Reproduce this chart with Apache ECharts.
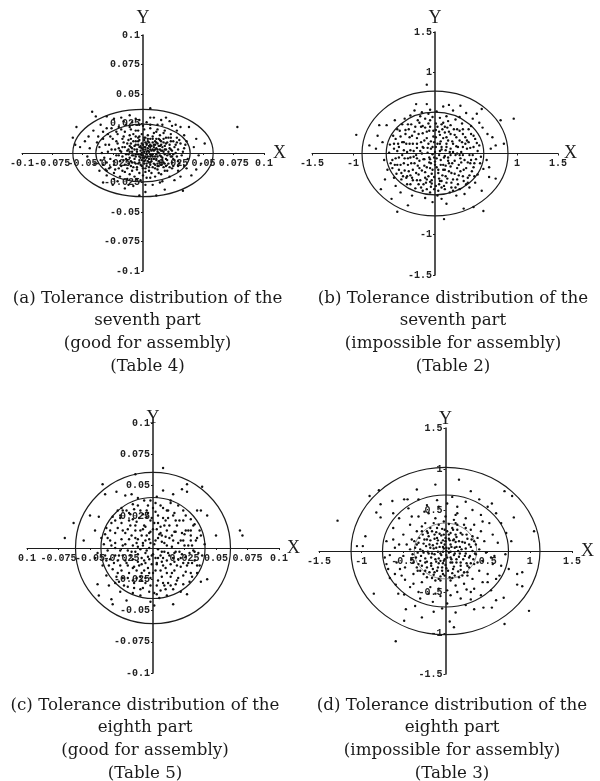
<!DOCTYPE html>
<html><head><meta charset="utf-8">
<style>html,body{margin:0;padding:0;background:#fff}#c{width:600px;height:781px}</style>
<script src="https://cdn.jsdelivr.net/npm/echarts@6/dist/echarts.min.js"></script>
</head><body><div id="c"></div>
<script>
// Tick values and printed labels
const ticksSmall=[-0.1,-0.075,-0.05,-0.025,0.025,0.05,0.075,0.1];
const labelsSmallX=['-0.1','-0.075','-0.05','-0.025','0.025','0.05','0.075','0.1'];
const labelsSmallXc=['0.1','-0.075','-0.05','-0.025','0.025','0.05','0.075','0.1'];
const labelsSmallY=['-0.1','-0.075','-0.05','-0.025','0.025','0.05','0.075','0.1'];
const ticksLarge=[-1.5,-1,1,1.5];
const labelsLarge=['-1.5','-1','1','1.5'];
const ticksLargeD=[-1.5,-1,-0.5,0.5,1,1.5];
const labelsLargeD=['-1.5','-1','-0.5','0.5','1','1.5'];
// Tolerance ellipses: [semi-axis x, semi-axis y]
const ellipsesA=[[0.058,0.037],[0.039,0.0245]];
const ellipsesB=[[0.89,0.77],[0.595,0.51]];
const ellipsesC=[[0.0615,0.0605],[0.0413,0.0404]];
const ellipsesD=[[1.12,1.02],[0.747,0.683],[0.37,0.34]];
// Scatter points: A and C in 1/1000, B and D in 1/100
const pointsA=[[78,22],[-42,35],[-39,31],[-55,22],[-58,13],[6,38],[9,30],[19,30],[31,22],[38,22],[44,12],[51,8],[42,5],[40,-19],[33,-32],[11,-36],[18,-31],[26,-23],[-24,29],[-30,31],[-11,32],[15,28],[22,27],[-6,29],[-18,30],[-48,10],[-52,5],[-45,14],[-41,19],[-35,24],[-33,18],[-44,4],[-56,7],[-38,9],[-46,-3],[-40,-9],[-36,-15],[-30,-19],[-33,-25],[-25,-27],[-21,-24],[-15,-30],[-8,-28],[-3,-36],[2,-33],[8,-27],[14,-25],[22,-20],[29,-15],[34,-11],[37,-5],[46,-2],[48,-9],[44,-14],[36,10],[34,15],[28,19],[24,23],[12,24],[3,26],[-3,24],[-9,26],[-14,24],[-20,22],[-26,21],[-29,16],[-33,12],[-36,5],[-32,-4],[-33,-10],[-28,-13],[-24,-17],[-19,-20],[-13,-22],[-7,-20],[-2,-23],[3,-21],[10,-20],[15,-18],[20,-15],[25,-11],[29,-7],[32,-2],[34,4],[31,8],[28,13],[23,16],[18,19],[12,20],[6,21],[1,20],[-4,19],[-10,20],[-15,18],[-21,16],[-25,12],[-28,7],[-29,1],[-27,-5],[-24,-10],[-20,-13],[-15,-16],[-9,-15],[-3,-17],[2,-16],[7,-17],[12,-14],[17,-12],[21,-9],[25,-5],[27,0],[26,5],[23,10],[19,13],[14,15],[9,17],[4,15],[-1,16],[-6,14],[-11,15],[-17,12],[-21,8],[-23,3],[-22,-2],[-19,-7],[-15,-10],[-10,-11],[-5,-12],[0,-13],[5,-12],[10,-10],[15,-8],[19,-5],[22,-1],[22,4],[19,8],[15,10],[11,12],[6,12],[1,11],[-3,11],[-8,10],[-13,8],[-17,5],[-18,1],[-17,-3],[-13,-6],[-9,-8],[-4,-9],[1,-9],[6,-8],[11,-6],[15,-3],[17,1],[16,5],[12,8],[8,9],[3,8],[-1,8],[-6,7],[-10,5],[-13,2],[-14,-1],[-11,-4],[-7,-5],[-3,-6],[2,-6],[7,-5],[10,-3],[13,0],[12,3],[9,5],[5,6],[1,5],[-3,5],[-7,3],[-9,1],[-9,-2],[-6,-3],[-2,-4],[2,-3],[6,-3],[8,-1],[9,2],[6,3],[2,3],[-2,2],[-5,1],[-4,-1],[-1,-2],[3,-1],[5,1],[1,1],[-1,0],[0,3],[4,4],[7,6],[10,7],[14,6],[18,3],[20,-2],[16,-6],[12,-9],[8,-12],[3,-11],[-2,-10],[-6,-9],[-12,-9],[-16,-6],[-20,-2],[-20,4],[-16,9],[-10,12],[-4,13],[2,13],[8,14],[13,12],[17,9],[24,2],[24,-3],[18,-9],[13,-11],[4,-7],[-1,-6],[-8,-2],[-11,1],[-11,6],[-6,10],[4,10],[10,10],[14,3],[11,-1],[5,-5],[3,7],[-4,7],[6,-1],[-2,-1]];
const coreA=[[-26,3],[-24,-7],[-22,10],[-19,2],[-18,-11],[-16,14],[-15,5],[-14,-5],[-13,-13],[-12,11],[-12,3],[-10,-7],[-10,8],[-8,-12],[-8,16],[-7,6],[-6,-1],[-5,-14],[-4,10],[-3,-8],[-3,14],[-2,5],[-1,-11],[0,7],[0,-4],[1,13],[1,-7],[2,9],[2,-13],[3,1],[3,-9],[4,12],[4,-3],[5,9],[5,-15],[6,5],[6,-10],[7,2],[7,-7],[8,12],[8,-3],[9,7],[9,-9],[10,3],[10,-13],[11,9],[11,-5],[12,1],[12,-11],[13,6],[13,-7],[14,11],[14,-2],[15,-10],[15,7],[16,2],[16,-4],[17,-8],[17,12],[18,6],[18,-1],[19,-11],[19,3],[20,9],[20,-6],[21,1],[21,13],[22,-12],[22,7],[23,-3],[23,3],[24,-8],[25,10],[25,-1],[26,-6],[27,7],[28,-3],[29,3],[30,-9],[30,11],[-31,7],[-30,-8],[-27,14],[-27,-12],[-22,18],[-23,-14],[-18,20],[-17,-15],[-11,22],[-11,-18],[-6,19],[-5,-22],[0,23],[0,-19],[6,24],[6,-21],[11,18],[13,-17],[17,17],[18,-15],[23,13],[24,-13],[28,9],[29,-11],[33,1],[-34,0],[-31,-14],[-35,-6],[-37,14],[-30,21],[-16,27],[-3,28],[6,30],[16,24],[27,24],[35,7],[36,-13],[31,-20],[16,-24],[2,-27],[-12,-27],[-24,-22],[-30,-15],[3,-4],[-3,-3],[0,-2],[4,2],[-2,6],[7,-2],[9,-5],[-7,-8],[-5,3],[2,5],[11,4],[15,2],[5,-8],[-1,4],[8,3],[12,-3],[-12,-1],[-9,4],[1,-4],[6,7]];
const pointsB=[[96,43],[-96,23],[-10,85],[11,-81],[59,-71],[-46,-72],[80,41],[74,10],[84,12],[70,20],[-68,35],[-59,35],[-80,10],[-70,22],[-66,-44],[-53,-56],[-33,-64],[47,-66],[35,-68],[57,-46],[66,-29],[74,-31],[59,-19],[66,-17],[51,49],[57,55],[31,59],[10,58],[-23,61],[-10,61],[-25,53],[-37,43],[-49,41],[-72,6],[-64,14],[-62,-8],[-58,-20],[-61,-32],[-48,-40],[-42,-48],[-28,-52],[-12,-55],[-3,-60],[8,-56],[14,-62],[26,-52],[36,-50],[42,-42],[49,-36],[52,-26],[63,-8],[68,6],[64,24],[58,32],[54,38],[46,43],[38,50],[22,53],[17,60],[2,52],[-6,54],[-16,51],[-30,47],[-40,36],[-46,30],[-51,22],[-55,11],[-56,1],[-52,-8],[-52,-18],[-47,-25],[-41,-32],[-34,-38],[-24,-43],[-15,-46],[-6,-48],[4,-46],[12,-44],[20,-42],[28,-38],[35,-34],[42,-27],[47,-17],[50,-7],[52,3],[51,13],[47,22],[41,30],[33,37],[25,42],[14,46],[6,44],[-3,45],[-12,43],[-21,41],[-29,36],[-36,29],[-42,21],[-45,12],[-46,3],[-44,-5],[-42,-14],[-37,-21],[-30,-27],[-22,-33],[-14,-38],[-5,-41],[5,-38],[14,-36],[22,-32],[29,-27],[35,-20],[40,-11],[42,-2],[43,7],[39,16],[34,24],[27,30],[19,35],[10,38],[1,37],[-8,37],[-17,33],[-25,27],[-31,20],[-35,12],[-38,4],[-37,-6],[-33,-14],[-27,-20],[-20,-26],[-12,-30],[-4,-33],[5,-31],[13,-28],[20,-24],[27,-18],[32,-11],[34,-2],[34,8],[30,16],[24,23],[17,27],[9,30],[1,29],[-7,28],[-15,25],[-22,19],[-27,12],[-30,4],[-30,-5],[-25,-12],[-19,-18],[-12,-23],[-4,-25],[4,-24],[12,-20],[19,-16],[24,-9],[27,0],[26,9],[21,15],[14,20],[6,23],[-2,21],[-10,19],[-17,14],[-22,7],[-23,-2],[-19,-9],[-13,-15],[-6,-18],[2,-17],[10,-14],[16,-9],[19,-2],[19,6],[14,12],[7,15],[-1,14],[-8,12],[-14,7],[-16,0],[-13,-7],[-7,-11],[0,-10],[7,-8],[12,-3],[13,4],[8,8],[1,8],[-5,6],[-9,1],[-7,-5],[-1,-5],[5,-2],[6,3],[0,2],[-3,-1],[-28,-30],[-34,-28],[-44,-20],[-50,-30],[-20,-38],[-10,-44],[18,-48],[30,-44],[40,-36],[48,-12],[56,-4],[44,34],[30,45],[-18,46],[-32,30],[-50,6],[-40,-2],[16,-5],[22,2],[31,-6],[37,12],[-26,3],[-33,-6],[-12,32],[12,33],[3,-52],[-6,-35],[8,-42],[44,-8],[-38,14]];
const coreB=[[-48,-6],[-46,-14],[-44,8],[-41,-24],[-40,14],[-38,-12],[-36,24],[-35,-30],[-34,2],[-32,-22],[-31,12],[-29,-12],[-28,22],[-27,-33],[-26,-4],[-24,33],[-23,-24],[-22,12],[-21,-15],[-20,24],[-18,-33],[-18,3],[-16,-21],[-15,34],[-14,-7],[-13,16],[-11,-36],[-10,-17],[-10,27],[-9,7],[-8,-28],[-6,-7],[-6,33],[-5,15],[-4,-37],[-3,-20],[-3,8],[-2,28],[-1,-29],[0,-14],[1,20],[1,-40],[2,-6],[3,33],[3,12],[4,-20],[5,27],[6,-34],[7,-14],[8,5],[8,36],[9,-27],[10,19],[11,-5],[11,-40],[12,26],[13,-15],[14,8],[15,-31],[15,32],[16,16],[17,-22],[18,2],[19,24],[20,-36],[21,-12],[22,12],[23,30],[24,-25],[25,-2],[26,20],[27,-32],[28,8],[29,-14],[30,28],[31,-22],[32,2],[33,14],[34,-28],[36,-8],[37,20],[38,-18],[39,6],[40,-30],[41,14],[43,-12],[44,24],[45,-22],[46,-2],[47,8],[48,-28],[49,18],[-49,-14],[-50,12],[-43,28],[-39,-28],[-33,36],[-30,-38],[-19,38],[-17,-42],[-6,41],[-1,-44],[8,-34],[16,40],[25,-42],[34,30],[38,-38],[-54,-12],[55,-12],[54,10],[-48,18],[22,-46],[-8,49],[-10,-32],[17,-12],[-22,-6],[30,-2],[10,-20],[-5,-12],[6,12],[-15,8]];
const pointsC=[[8,64],[-14,59],[-40,51],[27,51],[39,49],[-70,8],[-63,20],[69,14],[71,10],[-50,26],[-43,25],[50,10],[43,26],[-44,-29],[-43,-38],[-33,-41],[-32,-45],[-21,-42],[16,-45],[43,-25],[38,-27],[27,-37],[11,-38],[1,-46],[-2,-43],[-38,43],[-29,45],[-22,42],[-17,43],[8,46],[16,43],[23,47],[27,45],[35,30],[38,30],[-55,6],[-46,14],[-41,8],[-44,-4],[-40,-14],[-37,-22],[-30,-28],[-26,-35],[-16,-36],[-8,-32],[6,-34],[16,-33],[24,-29],[31,-23],[35,-14],[39,-6],[41,3],[37,14],[30,23],[24,30],[14,36],[3,41],[-7,38],[-16,35],[-25,32],[-32,25],[-37,16],[-39,3],[-34,-9],[-32,-17],[-24,-24],[-15,-28],[-6,-28],[3,-30],[12,-28],[20,-24],[26,-19],[31,-12],[33,-3],[34,6],[30,14],[24,22],[17,28],[8,32],[0,32],[-10,30],[-18,27],[-25,20],[-30,12],[-33,2],[-30,-6],[-26,-14],[-19,-20],[-10,-23],[-2,-24],[7,-23],[15,-20],[22,-15],[26,-7],[28,2],[25,11],[19,18],[12,24],[4,26],[-5,25],[-13,21],[-20,15],[-25,7],[-26,-2],[-22,-10],[-15,-15],[-7,-18],[2,-18],[10,-16],[17,-11],[21,-3],[22,6],[17,13],[9,18],[1,20],[-7,18],[-14,14],[-19,7],[-20,-2],[-16,-9],[-9,-13],[-1,-13],[7,-11],[13,-6],[15,1],[13,8],[6,12],[-2,13],[-9,10],[-13,4],[-14,-3],[-9,-8],[-3,-9],[4,-8],[9,-3],[9,4],[4,8],[-3,7],[-8,2],[-6,-4],[0,-5],[4,-1],[1,3],[-3,0],[-35,-30],[-28,-20],[-36,8],[-28,30],[-12,40],[-4,34],[12,30],[20,34],[30,10],[35,-20],[22,-35],[5,-40],[-10,-38],[-20,-31],[-46,-8],[-34,14],[-24,14],[-16,23],[-5,30],[10,22],[18,22],[26,14],[32,-2],[24,-12],[17,-18],[8,-28],[-3,-20],[-13,-18],[-24,-6],[-30,0],[-22,3],[-12,7],[-5,10],[3,15],[11,14],[16,6],[18,-3],[11,-10],[3,-13],[-6,-12],[-12,-11],[-17,-3],[-16,2],[-10,-1],[-2,4],[7,5],[6,-6],[11,2],[-12,-5],[-8,15],[-18,18],[-2,22],[7,10],[23,-5],[28,-12],[30,6],[-28,-10],[-38,-6],[-19,28],[2,36],[-26,26],[14,-23],[20,-9],[-9,-26],[-27,-27],[33,19],[-3,-35],[10,-33],[18,-29],[29,-27]];
const coreC=[[-36,-2],[-35,-14],[-34,6],[-33,20],[-31,-12],[-30,4],[-29,-23],[-28,16],[-27,-6],[-26,24],[-25,-18],[-24,2],[-23,-30],[-22,12],[-21,30],[-21,-12],[-20,-24],[-19,22],[-18,-6],[-17,10],[-16,-16],[-15,31],[-15,-32],[-14,18],[-13,-24],[-12,1],[-11,24],[-11,-14],[-10,-33],[-10,14],[-9,-20],[-8,4],[-8,27],[-7,-10],[-6,-24],[-6,17],[-5,-2],[-4,-16],[-4,28],[-3,12],[-2,-30],[-1,-6],[-1,24],[0,15],[0,-20],[1,-36],[2,6],[2,29],[3,-12],[4,20],[4,-26],[5,11],[6,-18],[6,34],[7,-3],[8,24],[8,-14],[9,-30],[10,9],[11,30],[11,-20],[12,-4],[13,18],[14,-13],[14,-30],[15,10],[16,26],[17,-4],[18,13],[19,-14],[19,-26],[20,4],[21,22],[22,-8],[23,12],[24,-22],[25,2],[26,26],[27,-14],[28,14],[29,-4],[30,-20],[31,2],[32,18],[33,-10],[35,8],[36,-4],[37,-14],[38,10],[-37,-10],[-38,11],[-30,22],[-24,30],[-16,-26],[3,-37],[14,38],[-2,38],[-12,34],[-20,-14],[-6,6],[2,-8],[8,-8],[-14,8],[16,-8],[24,6],[6,17],[-4,-7]];
const pointsD=[[-59,-110],[-128,37],[-79,74],[-90,67],[99,-73],[70,-89],[-49,-85],[-85,-52],[81,41],[105,24],[16,87],[30,73],[-12,81],[-34,75],[70,73],[79,67],[10,-93],[5,-86],[-105,6],[-98,6],[-95,18],[-77,41],[-77,57],[-82,47],[91,-26],[85,-28],[91,-43],[85,-41],[69,-57],[55,-69],[45,-69],[34,-71],[12,-75],[-28,-81],[-47,-71],[-36,-67],[-49,-53],[-59,-41],[-63,61],[-49,63],[-45,63],[-32,63],[-72,-8],[-68,-22],[-66,-33],[-56,-52],[-30,-58],[-15,-62],[2,-64],[18,-58],[30,-59],[42,-54],[54,-48],[60,-34],[66,-18],[71,-4],[78,12],[72,22],[66,34],[60,46],[50,54],[40,63],[24,60],[8,66],[-10,62],[-22,56],[-44,52],[-55,40],[-62,28],[-70,12],[-60,4],[-66,-5],[-58,-14],[-60,-28],[-48,-35],[-42,-44],[-32,-50],[-20,-52],[-6,-55],[6,-54],[14,-50],[25,-47],[34,-46],[44,-38],[50,-28],[56,-16],[58,-6],[62,10],[56,20],[52,34],[42,44],[32,50],[14,54],[2,58],[-8,54],[-20,46],[-32,42],[-42,32],[-50,20],[-55,8],[-50,-6],[-48,-20],[-38,-28],[-28,-38],[-18,-44],[-8,-46],[2,-48],[12,-42],[22,-40],[32,-34],[40,-24],[44,-12],[48,-2],[46,12],[42,24],[34,32],[24,40],[12,44],[0,42],[-12,40],[-24,34],[-34,24],[-40,14],[-42,2],[-40,-10],[-34,-20],[-26,-28],[-16,-33],[-6,-36],[6,-36],[16,-32],[26,-26],[34,-16],[36,-4],[36,8],[32,18],[24,28],[14,32],[4,33],[-8,32],[-18,28],[-27,20],[-32,10],[-33,-2],[-30,-12],[-22,-20],[-13,-26],[-3,-28],[8,-27],[18,-23],[25,-15],[29,-6],[30,5],[26,15],[18,22],[9,26],[-1,26],[-11,23],[-20,18],[-26,9],[-27,0],[-24,-9],[-17,-15],[-9,-20],[1,-21],[10,-19],[18,-14],[23,-6],[24,3],[20,11],[13,17],[4,20],[-5,19],[-13,15],[-19,8],[-21,-1],[-17,-8],[-11,-13],[-3,-15],[6,-14],[13,-10],[17,-3],[17,5],[12,11],[5,13],[-3,13],[-10,9],[-14,3],[-13,-4],[-8,-9],[-1,-10],[6,-8],[11,-3],[11,4],[6,8],[-1,8],[-7,5],[-9,-1],[-5,-5],[1,-5],[6,-1],[4,3],[-2,3],[-3,-1],[1,0],[-30,-24],[-22,-32],[-12,-36],[-38,-14],[-46,8],[-36,4],[-22,14],[-28,30],[-14,34],[-2,36],[10,38],[22,32],[30,26],[38,16],[40,2],[38,-14],[28,-20],[20,-30],[8,-33],[-4,-24],[-15,-22],[-24,-14],[-18,4],[-10,16],[0,16],[9,13],[15,0],[8,-14],[-6,-12]];
const coreD=[[-35,-8],[-34,8],[-32,-16],[-31,16],[-30,2],[-29,-6],[-28,24],[-28,-18],[-26,-2],[-25,14],[-24,-24],[-23,6],[-22,-13],[-21,22],[-20,-3],[-19,-26],[-18,13],[-17,-18],[-16,24],[-16,-3],[-15,7],[-14,-29],[-13,20],[-12,-10],[-11,4],[-10,-24],[-10,28],[-9,13],[-8,-15],[-7,21],[-6,-3],[-6,-31],[-5,10],[-4,-20],[-4,27],[-3,5],[-2,-12],[-2,20],[-1,-30],[0,12],[0,-17],[1,4],[2,24],[2,-8],[3,-24],[4,15],[4,-2],[5,-32],[6,22],[7,-10],[7,5],[8,28],[9,-22],[10,-5],[10,14],[11,-30],[12,20],[13,-14],[13,5],[14,26],[15,-25],[16,-7],[16,12],[18,-18],[19,2],[20,20],[21,-10],[22,-26],[23,10],[24,-3],[25,20],[26,-18],[28,-8],[28,8],[30,-15],[31,14],[32,0],[33,-10],[34,12],[35,-3],[-39,-4],[-37,12],[-33,-24],[-22,24],[-8,-34],[12,34],[26,-30],[-52,-30],[-62,14],[-40,42],[-25,48],[14,46],[44,36],[54,-8],[50,-38],[30,-50],[-12,-52],[-38,-40],[-54,-22],[64,-30],[-70,-16],[75,-22],[-62,46],[55,58],[-14,-74],[-4,-70],[24,-66],[60,-60]];
const panels=[
 {pts:pointsA.concat(coreA),div:1000,ell:ellipsesA,max:0.1,tx:ticksSmall,lx:labelsSmallX,ty:ticksSmall,ly:labelsSmallY,grid:[22,35,242,236],nx:9,ny:8},
 {pts:pointsB.concat(coreB),div:100,ell:ellipsesB,max:1.5,tx:ticksLarge,lx:labelsLarge,ty:ticksLarge,ly:labelsLarge,grid:[312,32,246,243],nx:6,ny:5},
 {pts:pointsC.concat(coreC),div:1000,ell:ellipsesC,max:0.1,tx:ticksSmall,lx:labelsSmallXc,ty:ticksSmall,ly:labelsSmallY,grid:[27,423,252,250],nx:8,ny:-4},
 {pts:pointsD.concat(coreD),div:100,ell:ellipsesD,max:1.5,tx:ticksLargeD,lx:labelsLargeD,ty:ticksLargeD,ly:labelsLargeD,grid:[319,428,253,246],nx:9,ny:0}
];
const captions=[
 ['(a) Tolerance distribution of the\nseventh part\n(good for assembly)\n(Table 4)',142.5,282],
 ['(b) Tolerance distribution of the\nseventh part\n(impossible for assembly)\n(Table 2)',448,282],
 ['(c) Tolerance distribution of the\neighth part\n(good for assembly)\n(Table 5)',140,689],
 ['(d) Tolerance distribution of the\neighth part\n(impossible for assembly)\n(Table 3)',447,689]
];
const ink='#1c1c1c',labelFont='"Liberation Mono"',serif='"DejaVu Serif"';
const axis=(type,p,ticks,labels,name,gap)=>({
 type:'value',gridIndex:panels.indexOf(p),min:-p.max,max:p.max,
 position:type==='y'?'left':'bottom',
 offset:-(type==='y'?p.grid[2]:p.grid[3])/2,
 splitLine:{show:false},name,nameGap:gap,nameLocation:'end',nameMoveOverlap:false,
 nameTextStyle:{fontFamily:'"Liberation Serif"',fontSize:18,color:ink,padding:type==='x'?[4,0,0,0]:0},
 axisLine:{onZero:false,lineStyle:{color:ink,width:type==='y'?1.5:1}},
 axisTick:{show:true,length:2,inside:false,customValues:ticks,lineStyle:{color:ink}},
 axisLabel:{show:true,customValues:ticks,margin:type==='y'?3:5,hideOverlap:false,
  fontFamily:labelFont,fontWeight:'bold',fontSize:10,color:'#222',
  formatter:v=>labels[ticks.indexOf(v)]}
});
const option={
 animation:false,backgroundColor:'#fff',
 title:captions.map(c=>({text:c[0],left:c[1],top:c[2],textAlign:'center',
  textStyle:{fontFamily:serif,fontWeight:'normal',fontSize:16.7,lineHeight:22.7,color:'#1a1a1a'}})),
 grid:panels.map(p=>({left:p.grid[0],top:p.grid[1],width:p.grid[2],height:p.grid[3],containLabel:false})),
 xAxis:panels.map(p=>axis('x',p,p.tx,p.lx,'X',p.nx)),
 yAxis:panels.map(p=>axis('y',p,p.ty,p.ly,'Y',p.ny)),
 series:panels.flatMap((p,i)=>[
  {type:'scatter',xAxisIndex:i,yAxisIndex:i,symbolSize:2.4,silent:true,
   itemStyle:{color:'#111',opacity:1},
   data:p.pts.map(q=>[q[0]/p.div,q[1]/p.div])},
  {type:'custom',xAxisIndex:i,yAxisIndex:i,silent:true,clip:false,data:p.ell,
   encode:{x:0,y:1},
   renderItem:(params,api)=>{
    const c=api.coord([0,0]),s=api.size([api.value(0),api.value(1)]),faint=params.dataIndex===2;
    return {type:'ellipse',shape:{cx:c[0],cy:c[1],rx:s[0],ry:s[1]},
     style:{fill:'transparent',stroke:faint?'#666':ink,lineWidth:faint?0.8:1.2}};
   }}
 ])
};
const chart=echarts.init(document.getElementById('c'),null,{renderer:'canvas'});
chart.setOption(option);
</script></body></html>
